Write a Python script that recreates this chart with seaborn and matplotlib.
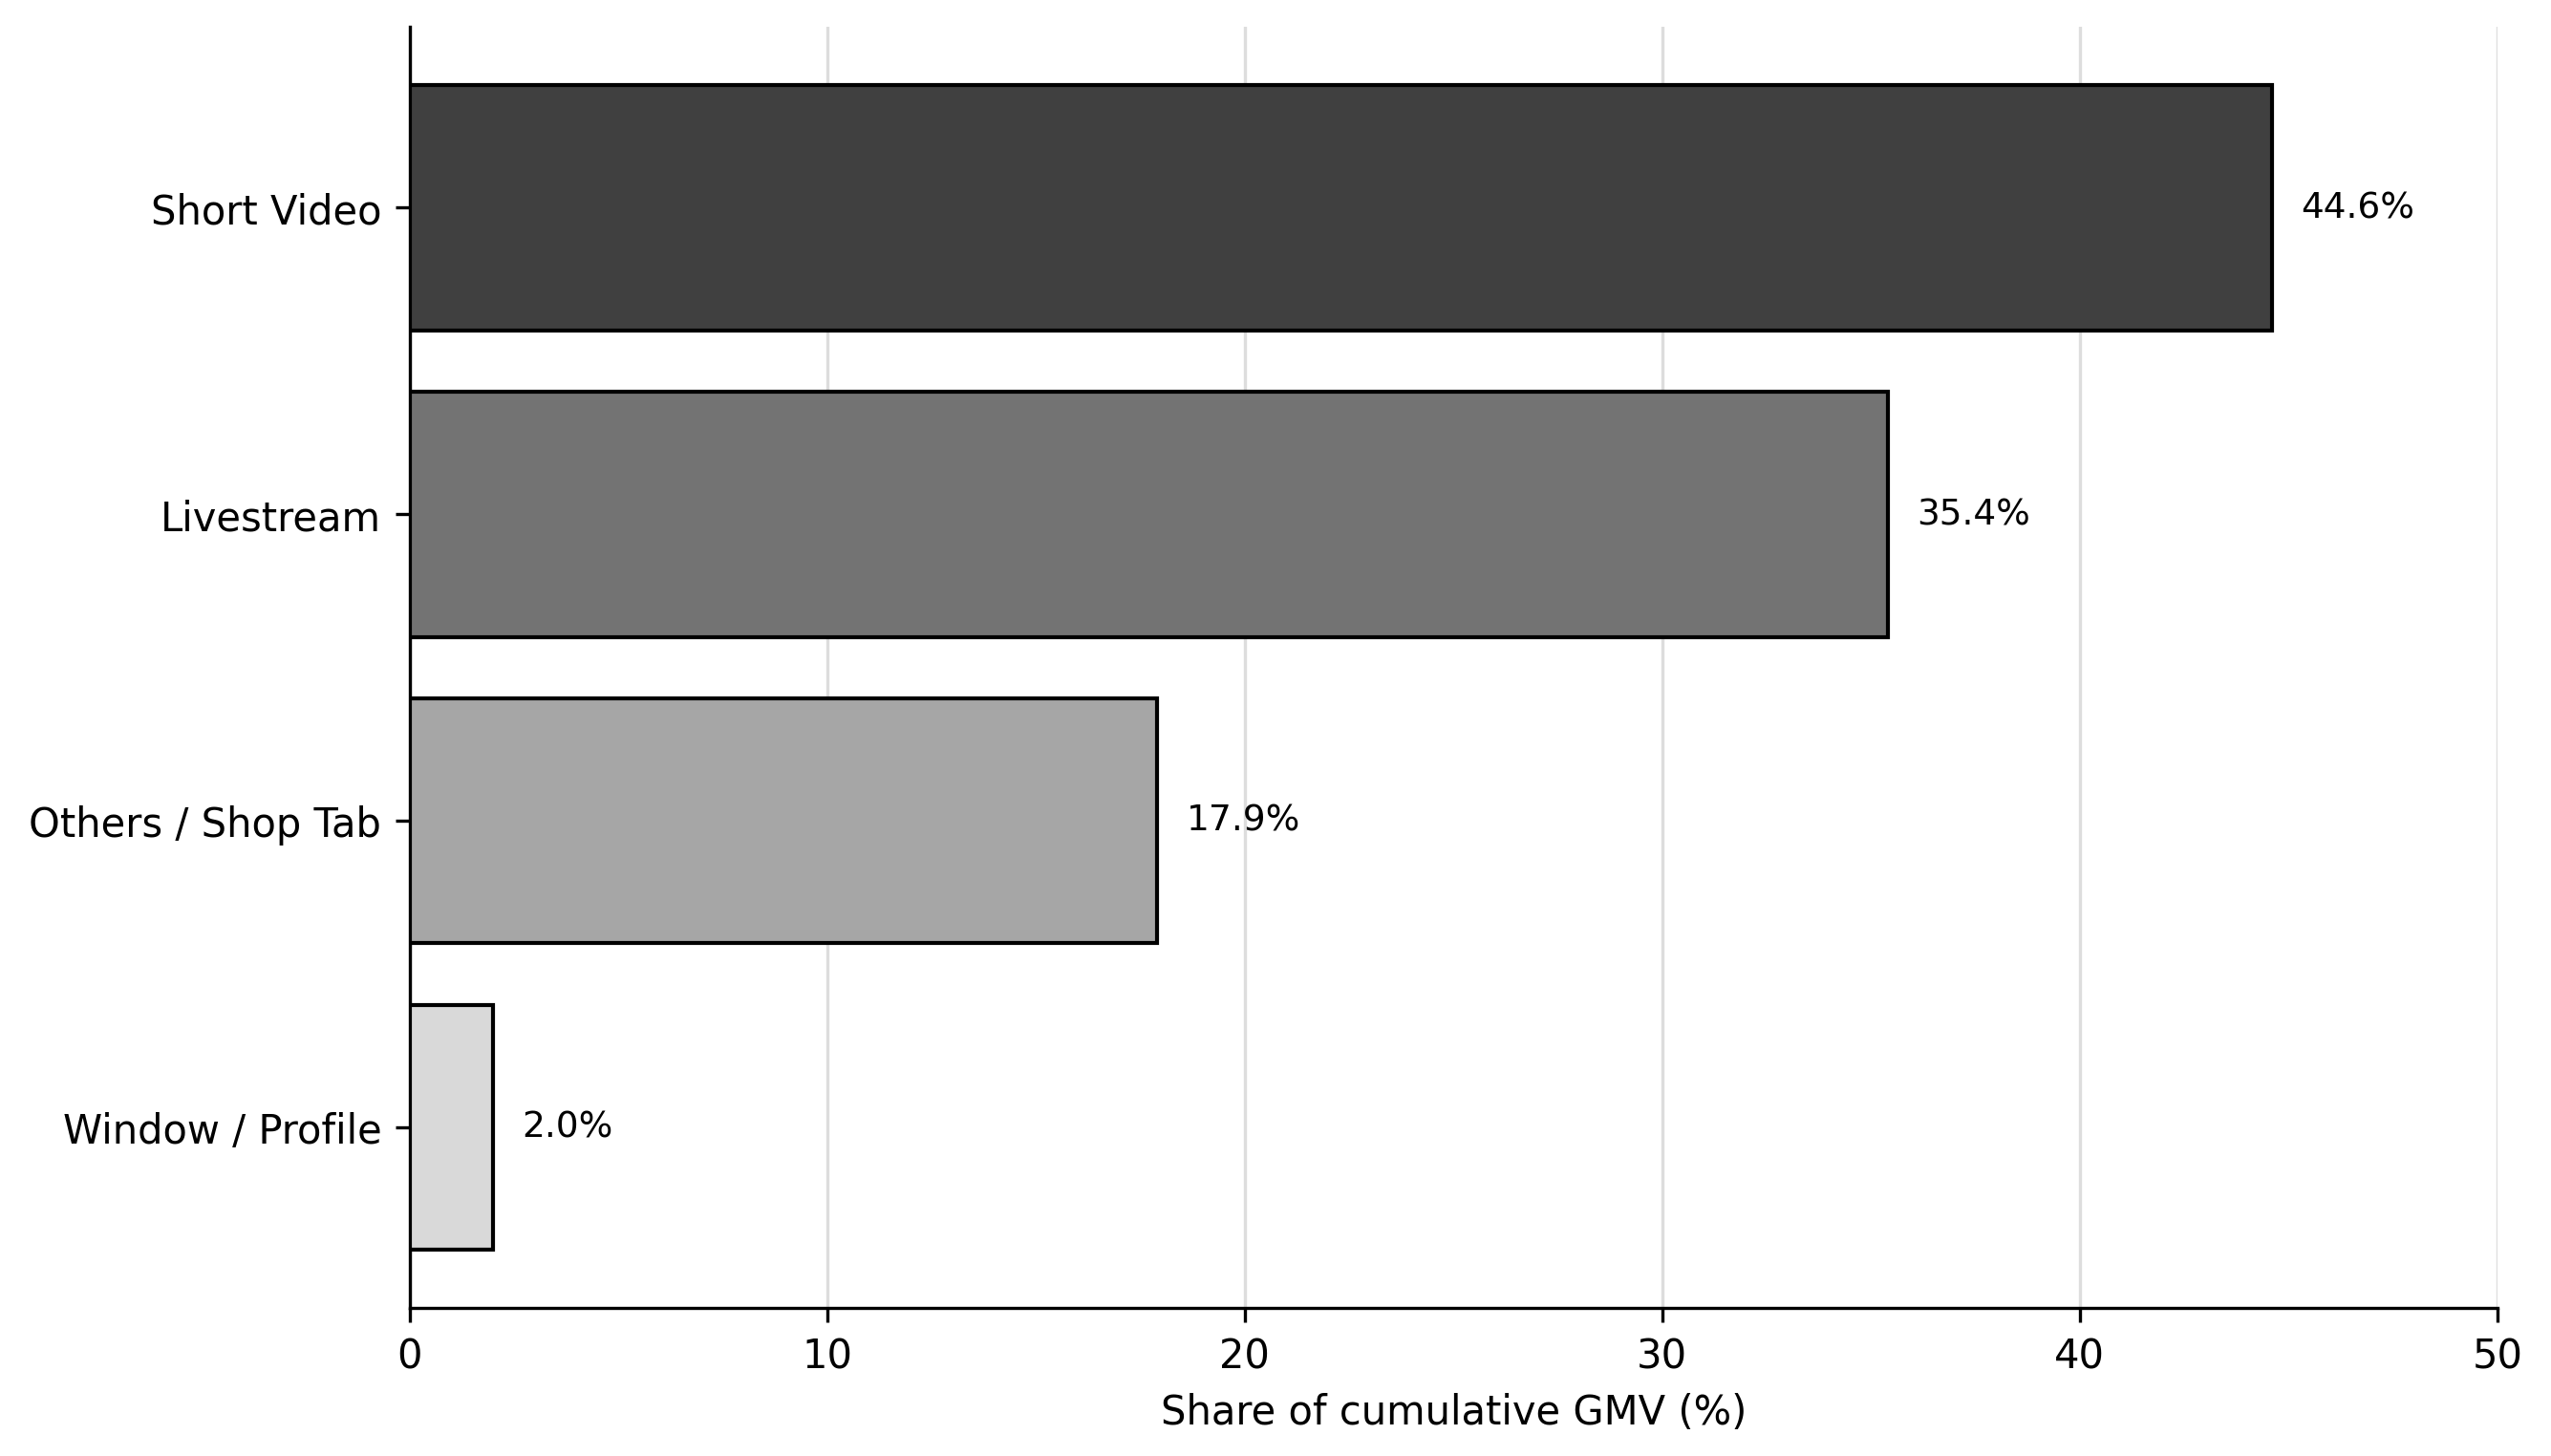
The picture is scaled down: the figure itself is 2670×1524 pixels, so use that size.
import matplotlib
matplotlib.use('Agg')
import matplotlib.pyplot as plt
import seaborn as sns
import pandas as pd

channels = ['Short Video', 'Livestream', 'Others / Shop Tab', 'Window / Profile']
share = [44.6, 35.4, 17.9, 2.0]
bar_colors = ['#404040', '#737373', '#a6a6a6', '#d9d9d9']

df = pd.DataFrame({'channel': channels, 'share': share})

sns.set_style('white')
plt.rcParams['font.family'] = ['DejaVu Sans']
plt.rcParams['text.color'] = 'black'
plt.rcParams['axes.labelcolor'] = 'black'
plt.rcParams['xtick.color'] = 'black'
plt.rcParams['ytick.color'] = 'black'

fig, ax = plt.subplots(figsize=(8.9, 5.083))
sns.barplot(data=df, y='channel', x='share', hue='channel', palette=bar_colors,
            edgecolor='black', linewidth=1.0, width=0.8, legend=False, ax=ax,
            zorder=3)

for i, v in enumerate(share):
    ax.text(v + 0.7, i, f'{v:.1f}%', va='center', ha='left', fontsize=9, color='black')

ax.set_xlim(0, 50)
ax.set_ylim(3.59, -0.59)
ax.set_xlabel('Share of cumulative GMV (%)', fontsize=10)
ax.set_ylabel('')
ax.tick_params(axis='both', labelsize=10, length=3.5, width=0.8, left=True, bottom=True,
               colors='black')
ax.xaxis.grid(True, color='#dddddd', linewidth=0.8, zorder=0)
ax.yaxis.grid(False)
ax.set_axisbelow(True)
sns.despine(ax=ax)
for s in ['left', 'bottom']:
    ax.spines[s].set_color('black')
    ax.spines[s].set_linewidth(0.8)

plt.subplots_adjust(left=0.1605, right=0.979, top=0.981, bottom=0.1015)
plt.savefig('out.png', dpi=300)
